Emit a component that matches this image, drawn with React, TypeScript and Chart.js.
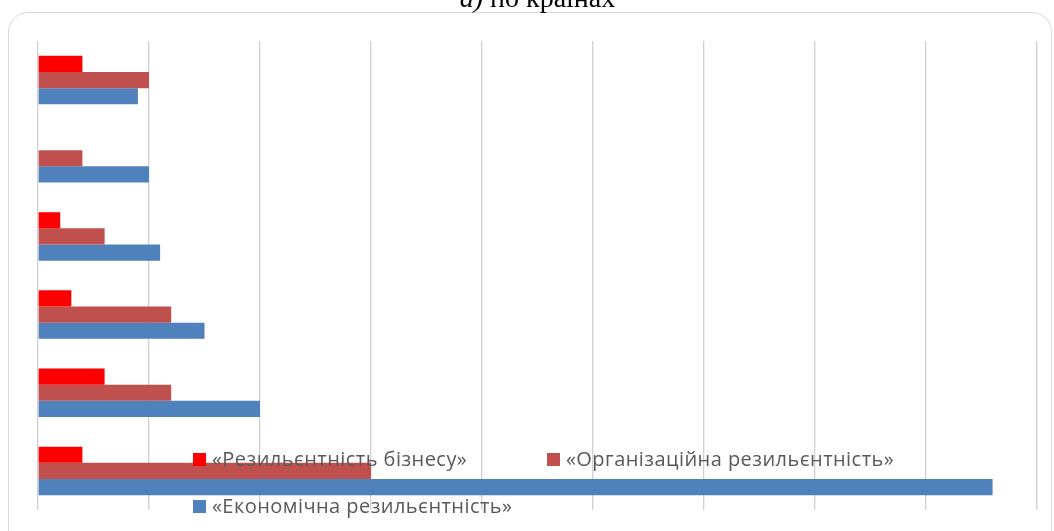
import React, { useEffect, useRef } from "react";
import { Chart, registerables } from "chart.js";

Chart.register(...registerables);

const categories = ["Країна 1", "Країна 2", "Країна 3", "Країна 4", "Країна 5", "Країна 6"];
const seriesNames = [
  "«Резильєнтність бізнесу»",
  "«Організаційна резильєнтність»",
  "«Економічна резильєнтність»",
];
const businessValues = [0.4, 0, 0.2, 0.3, 0.6, 0.4];
const organizationalValues = [1.0, 0.4, 0.6, 1.2, 1.2, 3.0];
const economicValues = [0.9, 1.0, 1.1, 1.5, 2.0, 8.6];
const seriesColors = ["#FF0000", "#C0504D", "#4F81BD"];
const xMin = 0;
const xMax = 9;
const xStep = 1;

const legendFont = "'Open Sans', 'Liberation Sans', sans-serif";

export default function App() {
  const canvasRef = useRef<HTMLCanvasElement | null>(null);

  useEffect(() => {
    document.body.style.margin = "0";
    const canvas = canvasRef.current;
    if (!canvas) return;
    const chart = new Chart(canvas, {
      type: "bar",
      data: {
        labels: categories,
        datasets: [businessValues, organizationalValues, economicValues].map((vals, i) => ({
          label: seriesNames[i],
          data: vals,
          backgroundColor: seriesColors[i],
          borderWidth: 0,
          categoryPercentage: 0.62,
          barPercentage: 1,
        })),
      },
      options: {
        indexAxis: "y",
        responsive: false,
        animation: false,
        layout: { padding: { left: 38, right: 17, top: 41, bottom: 21 } },
        plugins: { legend: { display: false }, title: { display: false }, tooltip: { enabled: false } },
        scales: {
          x: {
            min: xMin,
            max: xMax,
            ticks: { display: false, stepSize: xStep },
            grid: { color: "#d0d0d0", lineWidth: 1.3, drawTicks: false },
            border: { display: false },
          },
          y: { display: false },
        },
      },
    });
    return () => chart.destroy();
  }, []);

  const legendItem = (i: number, left: number, top: number) => (
    <div
      key={i}
      style={{ position: "absolute", left, top, display: "flex", alignItems: "center", whiteSpace: "nowrap" }}
    >
      <span style={{ width: 13, height: 13, background: seriesColors[i], display: "inline-block", marginRight: 6 }} />
      <span style={{ fontFamily: legendFont, fontSize: 20, color: "#595959", lineHeight: "20px", letterSpacing: "0.45px" }}>
        {seriesNames[i]}
      </span>
    </div>
  );

  return (
    <div style={{ position: "relative", width: 1054, height: 531, overflow: "hidden", background: "#fff" }}>
      <div
        style={{
          position: "absolute",
          left: 8,
          top: 12,
          width: 1044,
          height: 540,
          border: "1.5px solid #d9d9d9",
          borderRadius: 20,
          boxSizing: "border-box",
        }}
      />
      <canvas ref={canvasRef} width={1054} height={531} style={{ position: "absolute", left: 0, top: 0 }} />
      <div
        style={{
          position: "absolute",
          left: 0,
          width: 1075,
          top: -16.5,
          textAlign: "center",
          fontFamily: "'Liberation Serif', 'Times New Roman', serif",
          fontSize: 28,
          lineHeight: "28px",
          color: "#000",
          whiteSpace: "nowrap",
        }}
      >
        <i>а)</i> по країнах
      </div>
      {legendItem(0, 193, 449)}
      {legendItem(1, 547, 449)}
      {legendItem(2, 193, 496)}
    </div>
  );
}
